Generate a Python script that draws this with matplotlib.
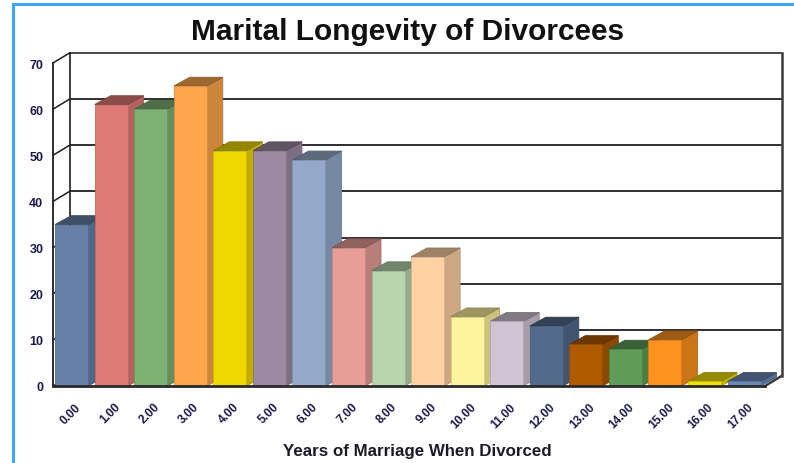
import matplotlib
matplotlib.use("Agg")
import matplotlib.pyplot as plt
from matplotlib.patches import Polygon
from matplotlib.lines import Line2D
from matplotlib.colors import to_rgb
import numpy as np

plt.rcParams['font.family'] = ['Liberation Sans', 'DejaVu Sans']

# Years of marriage before divorce and number of divorcees
years = ["0.00", "1.00", "2.00", "3.00", "4.00", "5.00", "6.00", "7.00", "8.00",
         "9.00", "10.00", "11.00", "12.00", "13.00", "14.00", "15.00", "16.00", "17.00"]
counts = [35, 61, 60, 65, 51, 51, 49, 30, 25, 28, 15, 14, 13, 9, 8, 10, 1, 1]
bar_colors = ['#6680A8', '#E07A74', '#7DB274', '#FFA64C', '#F0D800', '#9D89A2',
              '#95AACA', '#E89D96', '#B7D6B0', '#FFD1A3', '#FFF39B', '#D0C3D4',
              '#536A8C', '#B05A00', '#5E9C58', '#FF921E', '#F2E000', '#6B88B8']
y_ticks = [0, 10, 20, 30, 40, 50, 60, 70]

W, H = 794, 464
fig = plt.figure(figsize=(W / 100, H / 100), dpi=100)
fig.patch.set_facecolor('white')

# front plane of the plot box, in pixels
left_px, right_px, top_px, bottom_px = 53, 765, 64, 387
ax = fig.add_axes([left_px / W, 1 - bottom_px / H,
                   (right_px - left_px) / W, (bottom_px - top_px) / H])
xmin, xmax, ymin, ymax = -0.5, len(years) - 0.5, 0, 70
ax.set_xlim(xmin, xmax)
ax.set_ylim(ymin, ymax)
for s in ax.spines.values():
    s.set_visible(False)
ax.set_facecolor('none')

ux = (xmax - xmin) / (right_px - left_px)   # data units per pixel
uy = (ymax - ymin) / (bottom_px - top_px)

# depth of the walls and of the bars
wdx, wdy = 16.5 * ux, 10 * uy
bdx, bdy = 16 * ux, 8.8 * uy

grid_c = '#1e1e1e'
wall_c = '#3c3c3c'

# back-wall gridlines and the side-wall diagonals
for v in y_ticks:
    if v > 0:
        ax.plot([xmin + wdx, xmax + wdx], [v + wdy, v + wdy], color=grid_c if v < 70 else wall_c,
                lw=1.3, clip_on=False, zorder=1, solid_capstyle='butt')
    ax.plot([xmin, xmin + wdx], [v, v + wdy], color=grid_c, lw=1.1, clip_on=False, zorder=1)
ax.plot([xmin + wdx, xmin + wdx], [wdy, ymax + wdy], color=grid_c, lw=1.2, clip_on=False, zorder=1)
ax.plot([xmax + wdx, xmax + wdx], [wdy, ymax + wdy], color=wall_c, lw=1.8, clip_on=False, zorder=1)
ax.plot([xmax, xmax + wdx], [0, wdy], color=wall_c, lw=1.8, clip_on=False, zorder=1)

# bars: front face, right side and top
bw = 0.835
off = -0.03
for i, (v, c) in enumerate(zip(counts, bar_colors)):
    rgb = np.array(to_rgb(c))
    x0 = i + off - bw / 2
    x1 = x0 + bw
    z = 3 + i
    side = Polygon([(x1, 0), (x1, v), (x1 + bdx, v + bdy), (x1 + bdx, bdy)],
                   closed=True, facecolor=rgb * 0.80, edgecolor=rgb * 0.70, lw=0.6,
                   clip_on=False, zorder=z)
    top = Polygon([(x0, v), (x1, v), (x1 + bdx, v + bdy), (x0 + bdx, v + bdy)],
                  closed=True, facecolor=rgb * 0.62, edgecolor=rgb * 0.55, lw=0.6,
                  clip_on=False, zorder=z)
    ax.add_patch(side)
    ax.add_patch(top)
    ax.bar(i + off, v, width=bw, color=c, edgecolor=rgb * 0.85, linewidth=0.6,
           zorder=z + 0.5, clip_on=False)

# front axis line and floor edge
ax.plot([xmin, xmin], [0, ymax], color=grid_c, lw=1.3, clip_on=False, zorder=30)
ax.plot([xmin, xmax], [0, 0], color='#2a2a2a', lw=2.0, clip_on=False, zorder=30)

# y tick labels
ax.set_yticks(y_ticks)
ax.set_yticklabels([str(t) for t in y_ticks], fontsize=9, fontweight='bold', color='#1a1a4a')
ax.tick_params(axis='y', length=0, pad=7)
ax.set_xticks([])

# rotated category labels
for i, lab in enumerate(years):
    ax.text(i + 0.26, -0.045, lab, transform=ax.get_xaxis_transform(), rotation=45,
            ha='right', va='top', fontsize=8.6, fontweight='bold', color='#1a1a4a')

fig.text(408 / W, 1 - 32 / H, "Marital Longevity of Divorcees", ha='center', va='center',
         fontsize=21.5, fontweight='bold', color='#111111')
fig.text(417 / W, 1 - 452 / H, "Years of Marriage When Divorced", ha='center', va='center',
         fontsize=12.2, fontweight='bold', color='#1a1a2a')

# frame lines along the top and left edges
border_c = '#3DA5F4'
fig.add_artist(Line2D([12.5 / W, 1.0], [1 - 5 / H, 1 - 5 / H], color=border_c, lw=2.2,
                      transform=fig.transFigure))
fig.add_artist(Line2D([12.5 / W, 12.5 / W], [0, 1 - 5 / H], color=border_c, lw=2.2,
                      transform=fig.transFigure))

fig.savefig("out.png", dpi=100, facecolor='white')
